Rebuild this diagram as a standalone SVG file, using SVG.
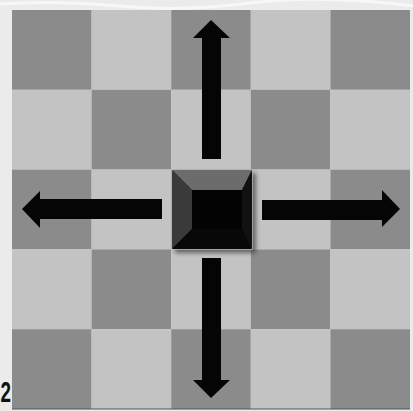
<svg xmlns="http://www.w3.org/2000/svg" width="413" height="411" viewBox="0 0 413 411">
  <defs>
    <style>
      .dk { fill: #8b8b8b; }
      .lt { fill: #c3c3c3; }
      .arrow { fill: #050505; }
      .label { font-family: "Liberation Sans", Arial, sans-serif; font-weight: bold; font-size: 30px; fill: #111; }
    </style>
    <filter id="shadow" x="-20%" y="-20%" width="150%" height="150%">
      <feGaussianBlur stdDeviation="2"/>
    </filter>
  </defs>

  <!-- page background -->
  <rect x="0" y="0" width="413" height="411" fill="#ebebeb"/>
  <path d="M0 4 Q60 0 120 6 T250 3 T413 6" stroke="#f7f7f7" stroke-width="3" fill="none"/>

  <!-- 5x5 board -->
  <g id="board">
    <rect class="dk" x="12" y="10" width="79.6" height="79.8"/>
    <rect class="lt" x="91.6" y="10" width="79.6" height="79.8"/>
    <rect class="dk" x="171.2" y="10" width="79.6" height="79.8"/>
    <rect class="lt" x="250.8" y="10" width="79.6" height="79.8"/>
    <rect class="dk" x="330.4" y="10" width="79.6" height="79.8"/>

    <rect class="lt" x="12" y="89.8" width="79.6" height="79.8"/>
    <rect class="dk" x="91.6" y="89.8" width="79.6" height="79.8"/>
    <rect class="lt" x="171.2" y="89.8" width="79.6" height="79.8"/>
    <rect class="dk" x="250.8" y="89.8" width="79.6" height="79.8"/>
    <rect class="lt" x="330.4" y="89.8" width="79.6" height="79.8"/>

    <rect class="dk" x="12" y="169.6" width="79.6" height="79.8"/>
    <rect class="lt" x="91.6" y="169.6" width="79.6" height="79.8"/>
    <rect class="dk" x="171.2" y="169.6" width="79.6" height="79.8"/>
    <rect class="lt" x="250.8" y="169.6" width="79.6" height="79.8"/>
    <rect class="dk" x="330.4" y="169.6" width="79.6" height="79.8"/>

    <rect class="lt" x="12" y="249.4" width="79.6" height="79.8"/>
    <rect class="dk" x="91.6" y="249.4" width="79.6" height="79.8"/>
    <rect class="lt" x="171.2" y="249.4" width="79.6" height="79.8"/>
    <rect class="dk" x="250.8" y="249.4" width="79.6" height="79.8"/>
    <rect class="lt" x="330.4" y="249.4" width="79.6" height="79.8"/>

    <rect class="dk" x="12" y="329.2" width="79.6" height="79.8"/>
    <rect class="lt" x="91.6" y="329.2" width="79.6" height="79.8"/>
    <rect class="dk" x="171.2" y="329.2" width="79.6" height="79.8"/>
    <rect class="lt" x="250.8" y="329.2" width="79.6" height="79.8"/>
    <rect class="dk" x="330.4" y="329.2" width="79.6" height="79.8"/>
    <line x1="12" y1="409" x2="410" y2="409" stroke="#555" stroke-width="1.2"/>
  </g>

  <!-- movement arrows -->
  <g id="arrows">
    <polygon class="arrow" points="211,20 230,38 221,38 221,159 202,159 202,38 193,38"/>
    <polygon class="arrow" points="211,398 230,380 221,380 221,258 202,258 202,380 193,380"/>
    <polygon class="arrow" points="22,209 40,191 40,199 162,199 162,219 40,219 40,228"/>
    <polygon class="arrow" points="400,209 382,190 382,200 262,200 262,220 382,220 382,227"/>
  </g>

  <!-- bevelled piece in the centre square -->
  <g id="piece">
    <rect x="175" y="173" width="81" height="80" fill="#3c3c3c" opacity="0.7" filter="url(#shadow)"/>
    <rect x="172" y="170" width="80" height="79" fill="#0c0c0c" stroke="#b5b5b5" stroke-width="1.5"/>
    <polygon points="172,170 252,170 242,190 192,190" fill="#6c6c6c"/>
    <polygon points="172,170 192,190 192,229 172,249" fill="#3a3a3a"/>
    <polygon points="252,170 252,249 242,229 242,190" fill="#111"/>
    <polygon points="172,249 252,249 242,229 192,229" fill="#080808"/>
    <rect x="192" y="190" width="50" height="39" fill="#030303"/>
  </g>

  <!-- figure number -->
  <text class="label" x="0.5" y="402" textLength="10.5" lengthAdjust="spacingAndGlyphs">2</text>
</svg>
